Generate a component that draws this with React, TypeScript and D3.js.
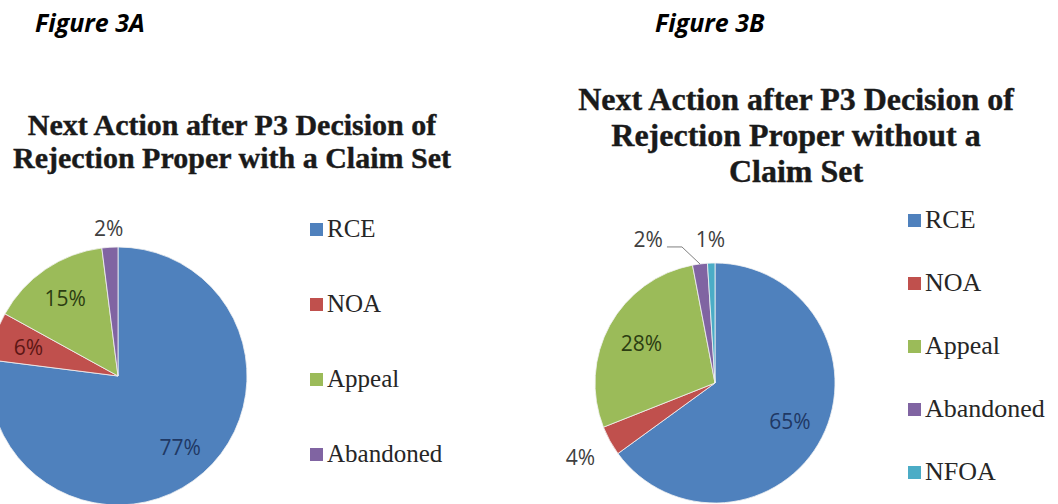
import React, { useEffect, useRef } from 'react';
import * as d3 from 'd3';

// data
const categoriesA = ["RCE", "NOA", "Appeal", "Abandoned"];
const valuesA = [77, 6, 15, 2];
const categoriesB = ["RCE", "NOA", "Appeal", "Abandoned", "NFOA"];
const valuesB = [65, 4, 28, 2, 1];

const figureA = "Figure 3A";
const figureB = "Figure 3B";
const titleA = ["Next Action after P3 Decision of", "Rejection Proper with a Claim Set"];
const titleB = ["Next Action after P3 Decision of", "Rejection Proper without a", "Claim Set"];

const colors: Record<string, string> = {
  RCE: "#4f81bd",
  NOA: "#c0504d",
  Appeal: "#9bbb59",
  Abandoned: "#8064a2",
  NFOA: "#4bacc6"
};
// data label text inside the slices is a dark shade of the slice
const insideText: Record<string, string> = {
  RCE: "#1f3864",
  NOA: "#5c1614",
  Appeal: "#2c3d12",
  Abandoned: "#3a2a4e",
  NFOA: "#1d4e5c"
};

const drawPie = (root, cfg) => {
  const { categories, values, figure, title, layout } = cfg;
  const g = root.append("g");

  g.append("text")
    .attr("x", layout.figX).attr("y", 32)
    .attr("font-family", "'Open Sans', sans-serif")
    .attr("font-style", "italic").attr("font-weight", 700)
    .attr("font-size", 25).attr("fill", "#000")
    .text(figure);

  title.forEach((line, i) => {
    g.append("text")
      .attr("x", layout.titleX).attr("y", layout.titleY + i * layout.titleStep)
      .attr("text-anchor", "middle")
      .attr("font-family", "'Liberation Serif', 'Times New Roman', serif")
      .attr("font-weight", 700).attr("font-size", layout.titleSize)
      .attr("fill", "#1a1a1a")
      .attr("stroke", "#1a1a1a").attr("stroke-width", 0.4)
      .text(line);
  });

  const data = categories.map((c, i) => ({ key: c, value: values[i] }));
  const pie = d3.pie().sort(null).value(d => d.value);
  const arcs = pie(data);
  const r = layout.r;
  const arc = d3.arc().innerRadius(0).outerRadius(r);

  const pg = g.append("g").attr("transform", `translate(${layout.cx},${layout.cy})`);
  pg.selectAll("path")
    .data(arcs)
    .enter().append("path")
    .attr("d", arc)
    .attr("fill", d => colors[d.data.key])
    .attr("stroke", "#f3f3f3")
    .attr("stroke-width", 0.8);

  const at = k => d3.arc().innerRadius(k * r).outerRadius(k * r);

  arcs.forEach(d => {
    const label = `${d.data.value}%`;
    const out = layout.outside[d.data.key];
    const t = pg.append("text")
      .attr("font-family", "'Open Sans', sans-serif")
      .attr("font-size", 21);
    if (!out) {
      const [x, y] = at(layout.insideK).centroid(d);
      t.attr("x", x).attr("y", y).attr("text-anchor", "middle")
        .attr("dominant-baseline", "central")
        .attr("fill", insideText[d.data.key]).text(label);
    } else if (out.leader) {
      const [x0, y0] = at(1).centroid(d);
      const [dx, dy, run] = out.leader;
      const x1 = x0 + dx, y1 = y0 + dy, x2 = x1 + run;
      pg.append("path")
        .attr("d", `M${x0},${y0}L${x1},${y1}L${x2},${y1}`)
        .attr("fill", "none").attr("stroke", "#7f7f7f").attr("stroke-width", 1);
      t.attr("x", x2 - 4).attr("y", y1).attr("text-anchor", "end")
        .attr("fill", "#404040").text(label);
    } else {
      const [x, y] = at(out.k).centroid(d);
      t.attr("x", x).attr("y", y).attr("text-anchor", "middle")
        .attr("dominant-baseline", "central")
        .attr("fill", "#404040").text(label);
    }
  });

  // legend
  categories.forEach((c, i) => {
    const y = layout.legY + i * layout.legStep;
    g.append("rect")
      .attr("x", layout.legX).attr("y", y - 14)
      .attr("width", 13).attr("height", 13)
      .attr("fill", colors[c]);
    g.append("text")
      .attr("x", layout.legX + 17).attr("y", y)
      .attr("font-family", "'Liberation Serif', 'Times New Roman', serif")
      .attr("font-size", layout.legSize).attr("fill", "#262626")
      .text(c);
  });
};

const App = () => {
  const svgRef = useRef();

  useEffect(() => {
    const svg = d3.select(svgRef.current);
    svg.selectAll("*").remove();
    svg.append("rect").attr("width", 1058).attr("height", 504).attr("fill", "#fff");

    drawPie(svg, {
      categories: categoriesA, values: valuesA, figure: figureA, title: titleA,
      layout: {
        figX: 35, titleX: 232, titleY: 135, titleStep: 33, titleSize: 30,
        cx: 118, cy: 376, r: 129, insideK: 0.73,
        outside: { Abandoned: { k: 1.15 } },
        legX: 310, legY: 237, legStep: 75, legSize: 25
      }
    });

    drawPie(svg, {
      categories: categoriesB, values: valuesB, figure: figureB, title: titleB,
      layout: {
        figX: 655, titleX: 796, titleY: 110, titleStep: 36, titleSize: 32,
        cx: 715, cy: 383, r: 120, insideK: 0.7,
        outside: { NOA: { k: 1.28 }, NFOA: { k: 1.2 }, Abandoned: { leader: [-18, -17, -15] } },
        legX: 908, legY: 228, legStep: 63, legSize: 26
      }
    });
  }, []);

  return (
    <svg ref={svgRef} width={1058} height={504}
      style={{ position: 'absolute', left: 0, top: 0, display: 'block' }} />
  );
};

export default App;
